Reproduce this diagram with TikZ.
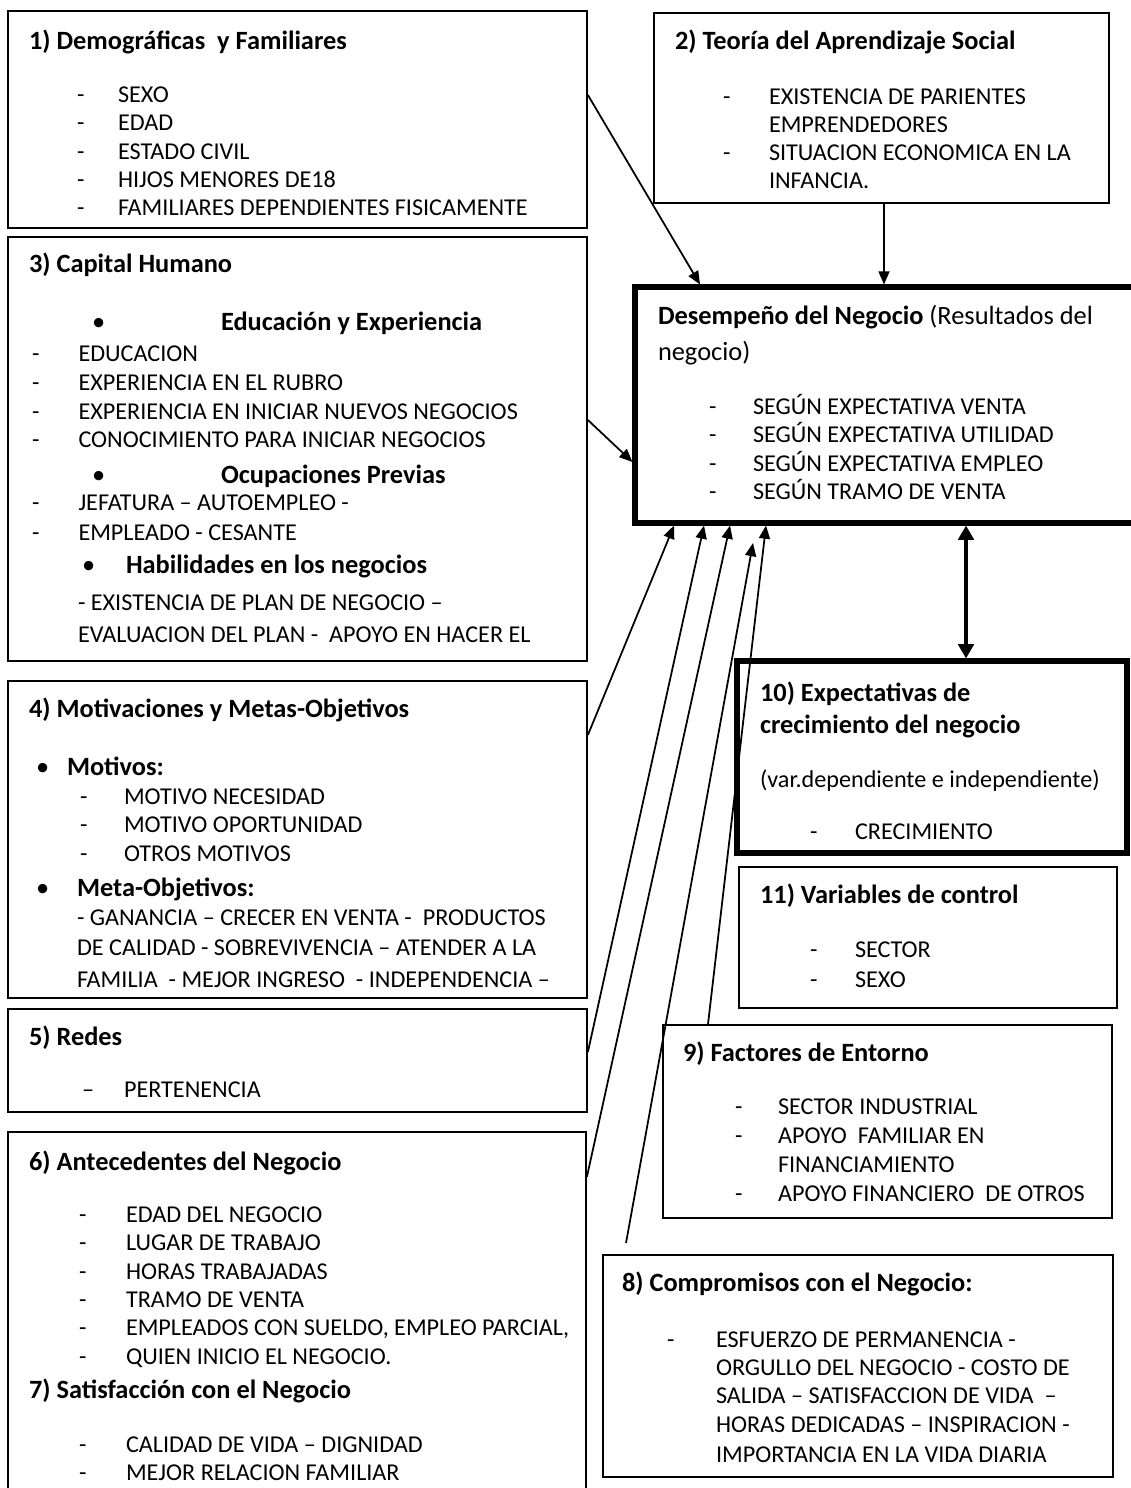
\documentclass[tikz,border=0pt]{standalone}
\usepackage{fontspec}
\setmainfont{Carlito}
\usetikzlibrary{arrows.meta,fit}
\newcounter{tlc}
\newcommand\Tx[4][]{\stepcounter{tlc}\edef\tname{tx\arabic{tlc}}\node[txt,#1] (\tname) at (#2,#3) {#4};}
\newcommand\Tt[3]{\Tx[ttl]{#1}{#2}{#3}}
\newcommand\Dx[4]{\Tx{#1}{#3}{-}\Tx{#2}{#3}{#4}}
\newcommand\Bu[2]{\Tx[bul]{#1}{#2}{•}}
\begin{document}
\begin{tikzpicture}[x=0.455pt,y=-0.455pt,
 txt/.style={anchor=base west,inner sep=0pt,outer sep=0pt,font=\fontsize{11}{13}\selectfont},
 ttl/.style={font=\fontsize{12}{14}\selectfont\bfseries},
 big/.style={font=\fontsize{12}{14}\selectfont},
 bul/.style={font=\fontsize{12}{14}\selectfont},
 box/.style={draw,line width=0.8pt,inner sep=0pt},
 tbox/.style={draw,line width=2.3pt,inner sep=0pt},
 arr/.style={line width=0.8pt,-{Triangle[length=6pt,width=5pt]}},
 darr/.style={line width=1.8pt,{Triangle[length=6.5pt,width=7pt]}-{Triangle[length=6.5pt,width=7pt]}}]
\fill[white] (0,0) rectangle (1131,1488);
\useasboundingbox (0,0) rectangle (1131,1488);
% boxes
\node[box,fit={(8,11) (587,228)}] (b1) {};
\node[box,fit={(654,13) (1109,203)}] (b2) {};
\node[box,fit={(8,237) (587,661)}] (b3) {};
\node[box,fit={(8,681) (587,998)}] (b4) {};
\node[box,fit={(8,1009) (587,1112)}] (b5) {};
\node[box,fit={(8,1132) (586,1540)}] (b6) {};
\node[box,fit={(603,1255) (1113,1477)}] (b8) {};
\node[box,fit={(663,1025) (1112,1218)}] (b9) {};
\node[tbox,fit={(737,661) (1127,853)}] (b10) {};
\node[box,fit={(739,867) (1117,1008)}] (b11) {};
\node[tbox,fit={(635,287) (1145,523)}] (perf) {};
% box 1
\Tt{29}{50}{1) Demográficas~~y Familiares}
\Dx{77}{118}{102.5}{SEXO}
\Dx{77}{118}{130.5}{EDAD}
\Dx{77}{118}{159.5}{ESTADO CIVIL}
\Dx{77}{118}{187.5}{HIJOS MENORES DE18}
\Dx{77}{118}{215.5}{FAMILIARES DEPENDIENTES FISICAMENTE}
% box 2
\Tt{675}{50}{2) Teoría del Aprendizaje Social}
\Dx{723}{769}{104.5}{EXISTENCIA DE PARIENTES}
\Tx{769}{132.5}{EMPRENDEDORES}
\Dx{723}{769}{160.5}{SITUACION ECONOMICA EN LA}
\Tx{769}{189}{INFANCIA.}
% box 3
\Tt{29}{273}{3) Capital Humano}
\Bu{92}{331}\Tt{221}{331}{Educación y Experiencia}
\Dx{32}{78.5}{361.5}{EDUCACION}
\Dx{32}{78.5}{390.5}{EXPERIENCIA EN EL RUBRO}
\Dx{32}{78.5}{419.5}{EXPERIENCIA EN INICIAR NUEVOS NEGOCIOS}
\Dx{32}{78.5}{447.5}{CONOCIMIENTO PARA INICIAR NEGOCIOS}
\Bu{92}{483}\Tt{221}{483}{Ocupaciones Previas}
\Dx{32}{78.5}{510.5}{JEFATURA – AUTOEMPLEO -}
\Dx{32}{78.5}{540.5}{EMPLEADO - CESANTE}
\Bu{82}{573}\Tt{126}{573}{Habilidades en los negocios}
\Tx{78}{610}{- EXISTENCIA DE PLAN DE NEGOCIO –}
\Tx{78}{642}{EVALUACION DEL PLAN -~~APOYO EN HACER EL}
% box 4
\Tt{29}{717}{4) Motivaciones y Metas-Objetivos}
\Bu{36}{775}\Tt{67}{775}{Motivos:}
\Dx{80}{124}{804.5}{MOTIVO NECESIDAD}
\Dx{80}{124}{832.5}{MOTIVO OPORTUNIDAD}
\Dx{80}{124}{861.5}{OTROS MOTIVOS}
\Bu{36}{896}\Tt{77}{896}{Meta-Objetivos:}
\Tx{77}{925.5}{- GANANCIA – CRECER EN VENTA -~~PRODUCTOS}
\Tx{77}{955.5}{DE CALIDAD - SOBREVIVENCIA – ATENDER A LA}
\Tx{77}{987.5}{FAMILIA~~- MEJOR INGRESO~~- INDEPENDENCIA –}
% box 5
\Tt{29}{1045}{5) Redes}
\Tx{82}{1097.5}{–}\Tx{124}{1097.5}{PERTENENCIA}
% box 6 / 7
\Tt{29}{1170}{6) Antecedentes del Negocio}
\Dx{79}{126}{1222.5}{EDAD DEL NEGOCIO}
\Dx{79}{126}{1250.5}{LUGAR DE TRABAJO}
\Dx{79}{126}{1279.5}{HORAS TRABAJADAS}
\Dx{79}{126}{1307.5}{TRAMO DE VENTA}
\Dx{79}{126}{1335.5}{EMPLEADOS CON SUELDO, EMPLEO PARCIAL,}
\Dx{79}{126}{1364.5}{QUIEN INICIO EL NEGOCIO.}
\Tt{29}{1398}{7) Satisfacción con el Negocio}
\Dx{79}{126}{1452.5}{CALIDAD DE VIDA – DIGNIDAD}
\Dx{79}{126}{1480.5}{MEJOR RELACION FAMILIAR}
% central box
\Tx[big]{658}{325}{\textbf{Desempeño del Negocio} (Resultados del}
\Tx[big]{658}{361}{negocio)}
\Dx{709}{753}{414.5}{SEGÚN EXPECTATIVA VENTA}
\Dx{709}{753}{442.5}{SEGÚN EXPECTATIVA UTILIDAD}
\Dx{709}{753}{471.5}{SEGÚN EXPECTATIVA EMPLEO}
\Dx{709}{753}{499.5}{SEGÚN TRAMO DE VENTA}
% box 10
\Tt{760}{701}{10) Expectativas de}
\Tt{760}{733}{crecimiento del negocio}
\Tx{760}{787}{(var.dependiente e independiente)}
\Dx{810}{855}{839.5}{CRECIMIENTO}
% box 11
\Tt{760}{903}{11) Variables de control}
\Dx{810}{855}{957.5}{SECTOR}
\Dx{810}{855}{987.5}{SEXO}
% box 9
\Tt{683}{1061}{9) Factores de Entorno}
\Dx{735}{778}{1114.5}{SECTOR INDUSTRIAL}
\Dx{735}{778}{1143.5}{APOYO~~FAMILIAR EN}
\Tx{778}{1172.5}{FINANCIAMIENTO}
\Dx{735}{778}{1201.5}{APOYO FINANCIERO~~DE OTROS}
% box 8
\Tt{622}{1291}{8) Compromisos con el Negocio:}
\Dx{667}{716}{1347.5}{ESFUERZO DE PERMANENCIA -}
\Tx{716}{1375.5}{ORGULLO DEL NEGOCIO - COSTO DE}
\Tx{716}{1403.5}{SALIDA – SATISFACCION DE VIDA~~–}
\Tx{716}{1432.5}{HORAS DEDICADAS – INSPIRACION -}
\Tx{716}{1462.5}{IMPORTANCIA EN LA VIDA DIARIA}
% connectors
\coordinate (c8a) at (626,1243);
\coordinate (c8b) at (753,543);
\draw[arr] (b1.east |- 0,95) -- (perf.north -| 700,0);
\draw[arr] (b2.south -| 884,0) -- (perf.north -| 884,0);
\draw[arr] (b3.east |- 0,420) -- (perf.west |- 0,462);
\draw[arr] (b4.east |- 0,735) -- (perf.south -| 674,0);
\draw[arr] (b5.east |- 0,1052) -- (perf.south -| 704,0);
\draw[arr] (b6.east |- 0,1177) -- (perf.south -| 730,0);
\draw[arr] (c8a) -- (c8b);
\draw[arr] (b9.north -| 708,0) -- (perf.south -| 766,0);
\draw[darr] (perf.south -| 966,0) -- (b10.north -| 966,0);
\end{tikzpicture}
\end{document}
